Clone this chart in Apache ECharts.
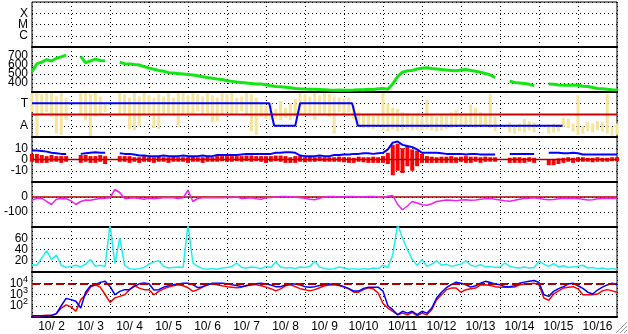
<!DOCTYPE html>
<html><head><meta charset="utf-8">
<script src="https://cdn.jsdelivr.net/npm/echarts@6/dist/echarts.min.js"></script>
<style>html,body{margin:0;padding:0;background:#fff}#c{width:628px;height:334px}</style>
</head><body><div id="c"></div>
<script>
// ---- data (3-hour samples from 10/2 00:00) ----
const STEP_HOURS = 3;
const dayLabels = ['10/ 2','10/ 3','10/ 4','10/ 5','10/ 6','10/ 7','10/ 8','10/ 9','10/10','10/11','10/12','10/13','10/14','10/15','10/16'];
const flareTicks = {1:'C', 2:'M', 3:'X'};
const levelTicks = {1:'A', 3:'T'};

const speed = [525,615,630,660,645,675,690,710, null,null,
  695,625,645,665,650,648, null,null,
  630,615,612,605,600,582,565,552,540,530,
  515,512,505,500,495,488,480,470,460,452,
  445,440,425,418,410,405,400,395,390,388,
  380,370,360,358,352,348,340,335,332,330,
  330,328,325,322,320,322,320,320,322,325,
  325,330,328,335,340,330,390,470,520,535,
  540,555,565,570,560,555,550,545,540,535,
  545,550,540,530,520,505,490,460, null,null,
  420,405,400,395,385,370, null,null,
  390,385,378,375,375,378,375,
  365,360,350,340,335,330,325,322];

const levelLow = [2.2,0.1,2.0,2.2,1.8,0.3,0.2,1.5, null,null,
  2.0,1.5,0.1,1.8,2.0,2.2, null,null,
  2.0,2.0,0.7,0.6,1.0,2.0,2.1,0.8,0.7,2.0,
  2.1,1.9,0.9,2.0,2.1,2.0,2.3,2.0,2.1,1.3,
  1.4,2.0,2.2,2.0,2.1,2.3,2.0,0.5,0.2,1.8,
  1.6,1.5,1.6,1.5,1.7,1.5,1.8,2.0,1.9,2.0,
  1.5,2.0,2.1,1.8,0.3,2.2,2.0,2.2,1.6,0.9,
  0.8,0.8,0.7,0.9,0.6,0.5,0.7,0.5,0.6,0.7,
  0.6,0.7,0.6,0.7,0.6,0.5,0.6,0.7,0.8,1.0,
  0.9,1.0,0.9,0.8,1.0,0.9,0.8,0.5, null,null,
  0.4,0.3,0.5,0.4,0.6,0.4, null,null,
  0.3,0.4,0.5,0.9,0.8,0.5,0.2,
  0.3,0.5,0.4,0.6,0.5,0.3,0.1,0.2];
const levelHigh = [3.9,3.9,3.8,3.9,3.9,3.6,3.9,3.5, null,null,
  3.9,3.9,3.8,3.9,3.6,3.0, null,null,
  3.9,3.8,3.5,3.9,3.6,3.9,3.7,3.5,3.8,3.6,
  3.9,3.5,3.9,3.9,3.7,3.9,3.8,3.6,3.9,3.7,
  3.5,3.9,3.8,3.9,3.5,3.6,3.9,3.8,3.5,3.0,
  2.8,3.0,2.5,3.2,2.6,3.0,3.4,3.9,3.8,3.6,
  3.9,3.7,3.9,3.8,3.6,3.5,3.4,3.5,2.8,2.2,
  2.0,2.1,1.9,2.0,3.9,3.0,2.6,2.5,2.2,2.1,
  1.9,2.0,1.8,3.3,1.9,1.8,2.0,1.9,2.2,2.4,
  2.1,2.0,2.9,2.6,2.2,2.0,3.8,1.8, null,null,
  1.3,1.1,1.2,1.6,1.4,1.3, null,null,
  1.1,1.2,1.1,1.7,1.6,1.2,3.7,
  1.0,1.3,1.2,1.4,1.3,3.8,0.9,1.2];

const stateHours = [0, 146, 149, 162, 165, 197, 200.5, 326.5];
const stateLevels = [3, 3, 1, 1, 3, 3, 1, 1];

const btTotal = [8,8,7.5,7,6,5.5,5,5, null,null,
  5,5.5,6,6.5,6,6, null,null,
  5.5,5,5,4.5,3.5,3.5,3,3,3,3.5,
  3,3,3,3.5,3,3,3,3.5,3,3,
  4,4,4,4,4,4.5,5,5,5,5,
  5,5,6,6,6.5,6.5,6,3.5,3,3,
  3,3.5,3,3,4,4,4.5,4.5,5,5,
  5.5,5.5,5,5.5,6,9,15,16,13,12,
  11,9,6,6,6,6,5.5,5,5,5,
  5,4.5,5,5,4.5,4.5,4.5,4.5, null,null,
  5,5,5,5,5,5, null,null,
  6,6,6,5.5,5.5,6,5.5,
  4.5,4.5,4.5,4.5,4.5,4.5,4.5,4.5];
const bzLow = [-2,-3,-3,-3,-2,-2,-3,-2, null,null,
  -3,-2,-3,-3,-2,-4, null,null,
  -2,-2,-3,-2,-3,-2,-2,-3,-2,-2,
  -3,-2,-2,-2,-3,-2,-2,-3,-2,-2,
  -2,-1.5,-2,-2,-1.5,-2,-1.5,-2,-1.5,-2,
  -3,-2,-1.5,-2,-3,-3,-3,-2,-2.5,-2,
  -2,-1.5,-2,-2,-2,-2,-2.5,-3,-3,-2,
  -2.5,-3,-3,-3,-3,-4,-14,-10,-12,-6,
  -10,-6,-3,-3,-3,-3,-3,-3,-3,-3,
  -2,-3,-3,-2,-3,-2,-2,-2, null,null,
  -3,-3,-3,-3,-2,-3, null,null,
  -5,-5,-4,-3,-2,-3,-2,
  -2,-2,-2.5,-2,-2,-2,-1.5,-1.5];
const bzHigh = [5,5,4,3,4,3,3,3, null,null,
  4,4,3,3,4,3, null,null,
  3,3,3,2,2,3,2,2,3,2,
  2,3,2,2,2,3,2,2,3,2,
  3,3,3,3,3,3,3.5,3.5,3,3,
  3,3,3.5,3.5,3,2,3,3,2,2.5,
  2,2.5,2,2,2,2.5,2,2,1.5,2.5,
  2,2,2.5,2,3,6,13,14,10,12,
  9,8,5,3,2.5,2,2.5,2.5,3,2,
  2.5,3,2.5,2.5,2,2.5,2,2, null,null,
  1.5,2,2,1.5,2,1.5, null,null,
  0,0.5,1,1.5,2,1.5,2,
  2,1.5,1.5,2,1.5,1.5,2,2];

const dstIndex = [-20,-10,-8,-30,-50,-15,-10,-12,-25,-50,
  -30,-20,-22,-15,-10,-8,-5,50,30,-10,
  -8,-5,-10,-15,-8,-12,-8,-5,-3,-5,
  -10,-5,45,-30,-10,-5,-5,-3,-5,-5,
  -3,-3,0,-10,-8,-5,-12,-15,-5,-3,
  0,3,3,2,0,-5,-8,-15,-18,-8,
  0,3,3,0,2,3,3,0,2,3,
  3,2,-5,5,10,-50,-85,-60,-30,-40,
  -52,-55,-45,-30,-25,-20,-22,-25,-20,-18,
  -22,-20,-15,-12,-10,-15,-20,-25,-28,-22,
  -15,-10,-8,-5,-10,-15,-18,-16,-12,-8,
  -10,-8,-10,-15,-20,-18,-12,-10,-8,-10,-8];

const cyanValues = [13,12,25,38,22,30,12,8,10,12,
  9,14,22,10,12,10,85,15,60,12,
  6,5,6,8,14,18,20,10,7,8,
  9,8,85,16,10,6,5,6,5,7,
  8,10,16,8,7,9,8,6,10,8,
  18,9,7,8,6,9,8,10,19,9,
  6,5,6,9,7,5,6,5,6,5,
  7,6,12,8,30,85,60,40,22,12,
  22,10,14,20,12,14,10,12,14,20,
  12,10,13,9,10,8,9,16,10,8,
  7,9,7,8,19,14,10,15,9,11,
  8,9,10,12,7,8,6,7,5,6,5];

const fluxBlue = [13,13,13,13,14,20,100,450,350,250,
  63,1600,6000,7400,12000,14800,5200,950,1900,2700,
  2700,5200,8900,10500,8900,2500,2700,4500,6000,7400,
  8500,10000,10000,7400,4000,5000,7400,10000,10000,10000,
  8900,7400,6300,5000,6300,7400,8900,10000,8500,7100,
  5000,5000,7100,8500,8500,7100,5000,4500,5000,6300,
  7400,8500,8500,7100,5000,3300,2000,2000,3500,4500,
  4500,4500,2000,100,45,16,32,22,32,16,
  32,22,63,490,1600,4000,7400,12600,10000,7400,
  4500,6000,10000,14800,11700,8500,7400,5000,5000,6000,
  10000,12600,14800,17400,11700,950,680,1900,3300,5000,
  8500,10000,6000,3500,1600,1100,2500,4500,7100,10000,7400];
const fluxRed = [13,11,13,14,13,20,63,120,79,32,
  350,950,4500,7400,4500,1000,200,500,680,950,
  2700,6300,3700,2700,2700,950,1900,3200,4500,6000,
  7400,6000,4000,1900,2700,4500,7400,8900,7400,6000,
  5000,4500,4000,4500,6000,7400,7400,6000,4500,3300,
  2100,3200,6000,7400,5000,3300,2700,2100,2700,4000,
  6000,7100,7400,6300,4500,3200,1600,1600,2700,4000,
  3200,1350,160,63,32,16,22,16,25,13,
  22,16,45,350,950,2700,3700,3700,1600,2700,
  3300,3700,7100,7400,6300,5000,4500,4500,4500,4700,
  7100,8500,8900,10000,7400,490,300,1100,2100,3700,
  4500,5000,3200,950,950,950,1100,2100,2700,2100,1600];

// ---- helpers ----
const hourOf = i => i * STEP_HOURS;
const toPoints = arr => arr.map((v, i) => [hourOf(i), v]);
const toRanges = (lo, hi) => lo.map((l, i) => l == null ? null : [hourOf(i), l, hi[i]]).filter(d => d);

const FONT = "'Liberation Sans', Arial, sans-serif";
const TOPS = [2, 47, 92, 137, 182, 227, 272];
const dotted = {color: '#000', type: [1, 3], width: 1};

const grids = TOPS.map(t => ({left: 32, right: 11, top: t, height: 45, show: true, borderColor: '#000', borderWidth: 1}));
const xAxes = TOPS.map((t, i) => ({
  type: 'value', gridIndex: i, min: 0, max: 360, interval: 24, position: 'bottom',
  axisLabel: {show: false}, axisTick: {show: false},
  axisLine: {show: true, onZero: false, lineStyle: {color: '#000', width: 2}},
  splitLine: {show: true, lineStyle: dotted}
}));
xAxes.push({
  type: 'category', gridIndex: 6, data: dayLabels, boundaryGap: true, position: 'bottom',
  axisLine: {show: false}, axisTick: {show: false}, splitLine: {show: false},
  axisLabel: {interval: 0, margin: 4, fontSize: 12, color: '#000', fontFamily: FONT}
});

function yAx(i, extra, fmt) {
  return Object.assign({
    gridIndex: i, axisLine: {show: false}, axisTick: {show: false},
    splitLine: {show: true, lineStyle: dotted},
    axisLabel: {color: '#000', fontSize: 12, margin: 4, fontFamily: FONT, formatter: fmt}
  }, extra);
}
const yAxes = [
  yAx(0, {type: 'value', min: 0, max: 4, interval: 1}, v => flareTicks[v] || ''),
  yAx(1, {type: 'value', min: 300, max: 800, interval: 100}, v => (v > 300 && v < 800) ? String(v) : ''),
  yAx(2, {type: 'value', min: 0, max: 4, interval: 1}, v => levelTicks[v] || ''),
  yAx(3, {type: 'value', min: -20, max: 20, interval: 10}, v => (v > -20 && v < 20) ? String(v) : ''),
  yAx(4, {type: 'value', min: -200, max: 100, interval: 100}, v => (v > -200 && v < 100) ? String(v) : ''),
  yAx(5, {type: 'value', min: 0, max: 80, interval: 20}, v => (v > 0 && v < 80) ? String(v) : ''),
  yAx(6, {type: 'log', logBase: 10, min: 10, max: 100000}, v => {
    const e = Math.round(Math.log10(v));
    return (e > 1 && e < 5) ? '{b|10}{s|' + e + '}' : '';
  })
];
yAxes[6].axisLabel.rich = {
  b: {fontSize: 12, fontFamily: FONT, color: '#000'},
  s: {fontSize: 9, fontFamily: FONT, color: '#000', padding: [0, 0, 8, 0]}
};

const refLine = (val, color, width, type) => ({
  silent: true, symbol: 'none', label: {show: false}, animation: false,
  lineStyle: {color: color, width: width, type: type || 'solid'},
  emphasis: {disabled: true}, data: [{yAxis: val}]
});
const lineS = (i, data, color, width, extra) => Object.assign({
  type: 'line', xAxisIndex: i, yAxisIndex: i, data: data, showSymbol: false, symbol: 'none',
  lineStyle: {color: color, width: width}, itemStyle: {color: color}, connectNulls: false
}, extra || {});
// vertical range bars drawn through the axes' own scales
const rangeS = (i, data, color, w, extra) => Object.assign({
  type: 'custom', xAxisIndex: i, yAxisIndex: i, data: data,
  encode: {x: 0, y: [1, 2]},
  renderItem: (params, api) => {
    const top = api.coord([api.value(0), api.value(2)]);
    const bot = api.coord([api.value(0), api.value(1)]);
    return {type: 'rect', shape: {x: top[0] - w / 2, y: top[1], width: w, height: Math.max(1, bot[1] - top[1])},
      style: {fill: color}};
  }
}, extra || {});

const series = [
  lineS(1, toPoints(speed), '#14e614', 3),
  rangeS(2, toRanges(levelLow, levelHigh), '#f7e59b', 3),
  lineS(2, [[0, 2], [360, 2]], '#cc0000', 2),
  lineS(2, stateHours.map((h, k) => [h, stateLevels[k]]), '#0000ff', 2),
  lineS(3, toPoints(btTotal), '#0000ff', 2),
  rangeS(3, toRanges(bzLow, bzHigh), '#ff0000', 4),
  lineS(3, [[0, 0], [360, 0]], '#aa0000', 1.5),
  lineS(4, [[0, 0], [360, 0]], '#aa0000', 1.5),
  lineS(4, toPoints(dstIndex), '#ee22ee', 1.5),
  lineS(5, toPoints(cyanValues), '#22eeee', 1.5),
  lineS(6, toPoints(fluxRed), '#ff0000', 1.5, {markLine: refLine(10000, '#aa0000', 2, [8, 4])}),
  lineS(6, toPoints(fluxBlue), '#0000ff', 1.5)
];

const grip = [];
[4, 8, 12].forEach(k => {
  grip.push({type: 'line', shape: {x1: 628 - k, y1: 333, x2: 627, y2: 334 - k}, style: {stroke: '#999', lineWidth: 1}});
  grip.push({type: 'line', shape: {x1: 629 - k, y1: 333, x2: 627, y2: 335 - k}, style: {stroke: '#fff', lineWidth: 1}});
});

const chart = echarts.init(document.getElementById('c'), null, {renderer: 'canvas'});
chart.setOption({
  animation: false,
  backgroundColor: '#fff',
  grid: grids, xAxis: xAxes, yAxis: yAxes, series: series,
  graphic: grip
});
</script></body></html>
